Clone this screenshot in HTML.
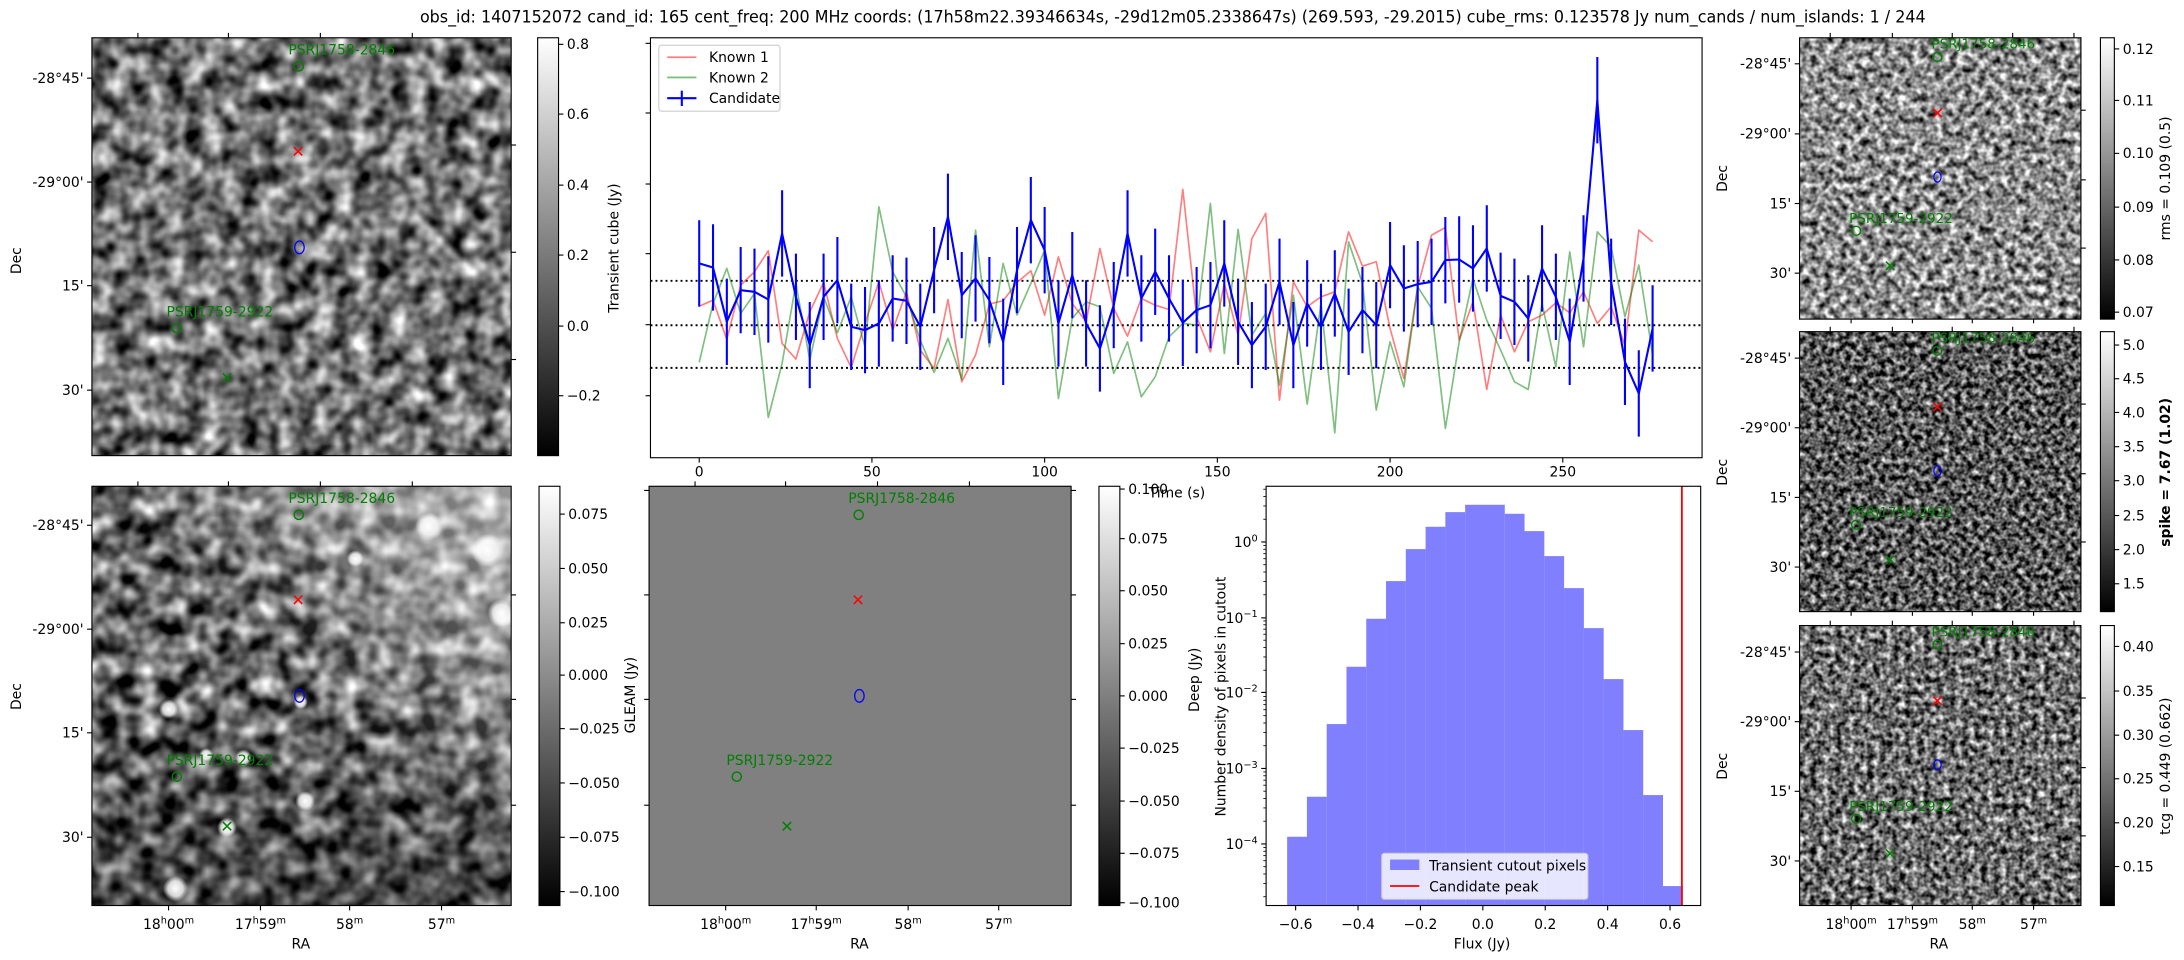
<!DOCTYPE html>
<html><head><meta charset="utf-8"><style>
html,body{margin:0;padding:0;background:#fff;}
svg{display:block;font-family:"DejaVu Sans","Liberation Sans",sans-serif;}
filter{color-interpolation-filters:sRGB;}
</style></head><body>
<svg id="fig" xmlns="http://www.w3.org/2000/svg" width="2184" height="960" viewBox="0 0 1568 689">
<defs>
<linearGradient id="cb" x1="0" y1="1" x2="0" y2="0"><stop offset="0" stop-color="#000"/><stop offset="1" stop-color="#fff"/></linearGradient>
<filter id="fA" color-interpolation-filters="sRGB" filterUnits="userSpaceOnUse" x="66" y="27" width="301" height="300"><feTurbulence type="fractalNoise" baseFrequency="0.075" numOctaves="2" seed="4"/><feColorMatrix type="matrix" values="1.6 0 0 0 -0.35  1.6 0 0 0 -0.35  1.6 0 0 0 -0.35  0 0 0 0 1"/></filter>
<filter id="fB" color-interpolation-filters="sRGB" filterUnits="userSpaceOnUse" x="66" y="349" width="301" height="301"><feTurbulence type="fractalNoise" baseFrequency="0.07" numOctaves="2" seed="11"/><feColorMatrix type="matrix" values="1.7 0 0 0 -0.45  1.7 0 0 0 -0.45  1.7 0 0 0 -0.45  0 0 0 0 1"/></filter>
<filter id="fR1" color-interpolation-filters="sRGB" filterUnits="userSpaceOnUse" x="1292" y="27" width="202" height="202"><feTurbulence type="fractalNoise" baseFrequency="0.19" numOctaves="2" seed="7"/><feColorMatrix type="matrix" values="1.7 0 0 0 -0.3  1.7 0 0 0 -0.3  1.7 0 0 0 -0.3  0 0 0 0 1"/></filter>
<filter id="fR2" color-interpolation-filters="sRGB" filterUnits="userSpaceOnUse" x="1292" y="238" width="202" height="201"><feTurbulence type="fractalNoise" baseFrequency="0.24" numOctaves="2" seed="21"/><feColorMatrix type="matrix" values="1.7 0 0 0 -0.5  1.7 0 0 0 -0.5  1.7 0 0 0 -0.5  0 0 0 0 1"/></filter>
<filter id="fR3" color-interpolation-filters="sRGB" filterUnits="userSpaceOnUse" x="1292" y="449" width="202" height="201"><feTurbulence type="fractalNoise" baseFrequency="0.22" numOctaves="2" seed="33"/><feColorMatrix type="matrix" values="1.7 0 0 0 -0.42  1.7 0 0 0 -0.42  1.7 0 0 0 -0.42  0 0 0 0 1"/></filter>
<radialGradient id="wb"><stop offset="0" stop-color="#fff" stop-opacity="1"/><stop offset="0.6" stop-color="#fff" stop-opacity="0.8"/><stop offset="1" stop-color="#fff" stop-opacity="0"/></radialGradient>
<linearGradient id="bright" x1="0" y1="1" x2="1" y2="0"><stop offset="0" stop-color="#fff" stop-opacity="0"/><stop offset="0.5" stop-color="#fff" stop-opacity="0"/><stop offset="1" stop-color="#fff" stop-opacity="0.6"/></linearGradient>
<linearGradient id="darkb" x1="0" y1="0" x2="0" y2="1"><stop offset="0.5" stop-color="#000" stop-opacity="0"/><stop offset="1" stop-color="#000" stop-opacity="0.3"/></linearGradient>
</defs>
<g id="g"></g>
</svg>
<script>
(function(){
var g=document.getElementById('g');var out=[];
function T(x,y,s,o){o=o||{};var a='<text x="'+x+'" y="'+y+'" font-size="'+(o.fs||10)+'" fill="'+(o.fill||'#000')+'" text-anchor="'+(o.a||'start')+'"'+(o.rot?' transform="rotate(-90 '+x+' '+y+')"':'')+(o.bold?' font-weight="bold"':'')+(o.tl?' textLength="'+o.tl+'" lengthAdjust="spacingAndGlyphs"':'')+'>'+s+'</text>';out.push(a);}
function L(x1,y1,x2,y2,c,w,extra){out.push('<line x1="'+x1+'" y1="'+y1+'" x2="'+x2+'" y2="'+y2+'" stroke="'+(c||'#000')+'" stroke-width="'+(w||0.8)+'" '+(extra||'')+'/>');}
function R(x,y,w,h,f,extra){out.push('<rect x="'+x+'" y="'+y+'" width="'+w+'" height="'+h+'" fill="'+f+'" '+(extra||'')+'/>');}
function box(x,y,w,h){R(x,y,w,h,'none','stroke="#000" stroke-width="0.8"');}
T(842,16,'obs_id: 1407152072 cand_id: 165 cent_freq: 200 MHz coords: (17h58m22.39346634s, -29d12m05.2338647s) (269.593, -29.2015) cube_rms: 0.123578 Jy num_cands / num_islands: 1 / 244',{fs:12,a:'middle',tl:1081});
function ra(labels,xs,y){var t=['18<tspan dy="-4" font-size="7">h</tspan><tspan dy="4">00</tspan><tspan dy="-4" font-size="7">m</tspan>','17<tspan dy="-4" font-size="7">h</tspan><tspan dy="4">59</tspan><tspan dy="-4" font-size="7">m</tspan>','58<tspan dy="-4" font-size="7">m</tspan>','57<tspan dy="-4" font-size="7">m</tspan>'];for(var i=0;i<4;i++){T(xs[i],y,t[i],{a:'middle'});}}
function markers(dx,dy){
 var c='#008000';
 T(207+dx,39+dy,'PSRJ1758-2846',{fill:c});
 out.push('<circle cx="'+(214.5+dx)+'" cy="'+(47.5+dy)+'" r="3.3" fill="none" stroke="'+c+'" stroke-width="1"/>');
 cross(214+dx,108.5+dy,'#f00');
 out.push('<ellipse cx="'+(215+dx)+'" cy="'+(177.5+dy)+'" rx="3.4" ry="4.6" fill="none" stroke="#00f" stroke-width="0.9"/>');
 T(119.5+dx,227+dy,'PSRJ1759-2922',{fill:c});
 out.push('<circle cx="'+(127+dx)+'" cy="'+(235.5+dy)+'" r="3.3" fill="none" stroke="'+c+'" stroke-width="1"/>');
 cross(163+dx,271+dy,c);
}
function cross(x,y,c){L(x-3,y-3,x+3,y+3,c,1.1);L(x-3,y+3,x+3,y-3,c,1.1);}
function cbar(x,y,h,ticks){R(x,y,15,h,'url(#cb)');box(x,y,15,h);ticks.forEach(function(t){L(x+15,t[1],x+18.5,t[1]);T(x+21,t[1]+3.5,t[0]);});}
// Panel A
R(66,27,301,300,'#888','filter="url(#fA)"');
box(66,27,301,300);
[99,164,230,296].forEach(function(x){L(x,27,x,23.5);});
[[56,"-28°45'"],[130.6,"-29°00'"],[205,"15'"],[280,"30'"]].forEach(function(d){L(66,d[0],62.5,d[0]);T(60,d[0]+3.5,d[1],{a:'end'});});
[104,181,258].forEach(function(y){L(367,y,370.5,y);});
T(15,187,'Dec',{a:'middle',rot:1});
markers(0,0);
cbar(386,27,300,[['0.8',31.7],['0.6',81.8],['0.4',132.8],['0.2',183],['0.0',234],['−0.2',284]]);
T(444,178,'Transient cube (Jy)',{a:'middle',rot:1});
// Panel B
R(66,349,301,301,'#888','filter="url(#fB)"');
R(66,349,301,301,'url(#bright)');
R(66,349,301,301,'url(#darkb)');
[[126,638,9],[121,509,7],[175,544,6],[163,594,7],[219,575,7],[216,504,5],[148,542,5],[308,378,10],[350,395,12],[360,440,10],[255,401,6]].forEach(function(b){out.push('<circle cx="'+b[0]+'" cy="'+b[1]+'" r="'+b[2]+'" fill="url(#wb)"/>');});
box(66,349,301,301);
[99,164,230,296].forEach(function(x){L(x,349,x,345.5);});
[[377,"-28°45'"],[451.6,"-29°00'"],[526,"15'"],[601,"30'"]].forEach(function(d){L(66,d[0],62.5,d[0]);T(60,d[0]+3.5,d[1],{a:'end'});});
[121,187,251,317].forEach(function(x){L(x,650,x,653.5);});
[427,502,578].forEach(function(y){L(367,y,370.5,y);});
ra(0,[121,187,251,317],667);
T(216,681,'RA',{a:'middle'});
T(15,500,'Dec',{a:'middle',rot:1});
markers(0,322);
cbar(387,349,301,[['0.075',369],['0.050',408],['0.025',447],['0.000',484.6],['−0.025',523],['−0.050',562],['−0.075',601],['−0.100',640]]);
T(456,499,'GLEAM (Jy)',{a:'middle',rot:1});
// GLEAM
R(466,349,303,301,'#808080');box(466,349,303,301);
[499,564,630,696].forEach(function(x){L(x,349,x,345.5);});
[352,427,502,578].forEach(function(y){L(466,y,462.5,y);L(769,y,772.5,y);});
[521,586,652,717].forEach(function(x){L(x,650,x,653.5);});
ra(0,[521,586,652,717],667);
T(617,681,'RA',{a:'middle'});
markers(402,322);
cbar(789,349,301,[['0.100',351],['0.075',386.6],['0.050',424],['0.025',462],['0.000',499.5],['−0.025',537],['−0.050',575],['−0.075',612.5],['−0.100',648]]);
T(861,488,'Deep (Jy)',{a:'middle',rot:1});
// Time series
box(467,27,755,301.5);
var X=function(t){return 502+t*2.48;};
var Y=function(z){return (z/3+30)/1.393;};
[31,81,132,182,233,284].forEach(function(y){L(467,y,463.5,y);});
[0,50,100,150,200,250].forEach(function(t){L(X(t),328.5,X(t),332);T(X(t),342,String(t),{a:'middle'});});
T(845,357,'Time (s)',{a:'middle'});
[201.5,233.4,264].forEach(function(y){L(467,y,1222,y,'#000',1.4,'stroke-dasharray="1.4 2.2"');});
var red=[828,810,928,765,725,662,940,987,845,757,925,1012,880,755,900,785,960,1015,808,1055,975,822,812,757,722,855,680,820,875,655,835,918,805,825,838,478,860,965,760,915,625,550,1110,755,830,800,785,605,708,695,895,1045,770,615,592,930,815,1078,855,965,875,855,818,848,785,880,830,945,600,635];
var grn=[997,820,715,850,790,1162,1000,760,990,800,908,800,950,530,725,800,930,1027,925,1047,600,950,700,855,760,660,1105,865,815,830,1030,935,1100,1040,920,880,885,520,970,598,915,850,1065,795,1122,820,1208,635,760,1140,935,1070,770,835,1195,935,745,870,960,1055,1078,820,1010,665,950,605,650,860,705,975];
var blu=[700,712,875,780,785,808,610,800,945,800,750,890,900,880,805,812,890,720,560,795,745,810,935,720,570,660,880,735,880,955,825,610,805,725,805,878,840,825,700,875,945,890,755,945,820,890,790,905,840,885,705,775,762,755,690,688,715,655,797,815,865,715,800,935,685,210,755,995,1090,895];
function pl(arr,c,w,op){var p=arr.map(function(v,i){return X(i*4).toFixed(1)+','+Y(v).toFixed(1);}).join(' ');out.push('<polyline points="'+p+'" fill="none" stroke="'+c+'" stroke-width="'+w+'" stroke-opacity="'+op+'" stroke-linejoin="round"/>');}
pl(red,'#ff0000',1.2,0.5);pl(grn,'#008000',1.2,0.5);
blu.forEach(function(v,i){var y=Y(v);L(X(i*4),y-31,X(i*4),y+31,'#0000ff',1.5);});
pl(blu,'#0000ff',1.5,1);
R(473,32.3,87,47.4,'#fff','stroke="#ccc" stroke-width="0.8" rx="2" fill-opacity="0.8"');
L(479,41,500,41,'#ff0000',1.3,'stroke-opacity="0.5"');T(509,44.5,'Known 1');
L(479,55.5,500,55.5,'#008000',1.3,'stroke-opacity="0.5"');T(509,59,'Known 2');
L(479,70.4,500,70.4,'#0000ff',1.5);L(489.5,65,489.5,76,'#0000ff',1.5);T(509,74,'Candidate');
// Histogram
var edges=[];for(var i=0;i<=20;i++)edges.push(924.1+i*14.2);
var tops=[1100,980,762,590,446,333,237,170,126,104,104,131,183,258,354,474,627,780,975,1248];
tops.forEach(function(t,i){var y=(t/3+470)/1.393;R(edges[i],y,14.25,650-y,'#8080ff');});
L(1207.5,349,1207.5,650,'#ff0000',1.3);
box(909,349,312,301);
var hX=function(v){return 1064.6+v*224;};
[-0.6,-0.4,-0.2,0,0.2,0.4,0.6].forEach(function(v){var x=hX(v);L(x,650,x,653.5);T(x,667,(v<0?'−':'')+Math.abs(v).toFixed(1),{a:'middle'});});
T(1064,681,'Flux (Jy)',{a:'middle'});
var dec=[[389,'0'],[443.5,'−1'],[497,'−2'],[551.6,'−3'],[605.8,'−4']];
dec.forEach(function(d){L(909,d[0],905.5,d[0]);out.push('<text x="903" y="'+(d[0]+3.5)+'" font-size="10" text-anchor="end">10<tspan dy="-4" font-size="7">'+d[1]+'</tspan></text>');});
for(var k=-5;k<=0;k++){for(var m=2;m<=9;m++){var y=389-(k+Math.log10(m))*54.2;if(y>349&&y<650)L(909,y,907,y,'#000',0.6);}}
T(880,500,'Number density of pixels in cutout',{a:'middle',rot:1});
R(992,612.5,148,33,'#fff','stroke="#ccc" stroke-width="0.8" rx="2" fill-opacity="0.8"');
R(998,617,21,7.5,'#8080ff');T(1026,625,'Transient cutout pixels');
L(998,636,1019,636,'#ff0000',1.3);T(1026,640,'Candidate peak');
// Right panels
var rows=[{y:27,f:'fR1',lab:'rms = 0.109 (0.5)',ticks:[['0.12',35],['0.11',72],['0.10',110],['0.09',148.6],['0.08',186.5],['0.07',224]],decs:[45.7,96,146,196]},
{y:238,f:'fR2',lab:'spike = 7.67 (1.02)',bold:1,ticks:[['5.0',247.6],['4.5',271.8],['4.0',296],['3.5',320.6],['3.0',345],['2.5',370],['2.0',394.5],['1.5',419]],decs:[257,307,357,407]},
{y:449,f:'fR3',lab:'tcg = 0.449 (0.662)',ticks:[['0.40',464],['0.35',496],['0.30',527.7],['0.25',559],['0.20',590.6],['0.15',622]],decs:[468,518,568,618]}];
rows.forEach(function(r,ri){
 var dy=r.y-27;var hh=(ri==0?202:201);
 R(1292,r.y,202,hh,'#888','filter="url(#'+r.f+')"');
 box(1292,r.y,202,hh);
 [1314,1358.6,1401.6,1445,1489].forEach(function(x){L(x,r.y,x,r.y-3.5);});
 [1329,1373,1416,1460].forEach(function(x){L(x,r.y+hh,x,r.y+hh+3);});
 [79,129,178].forEach(function(y){L(1494,y+dy,1497.5,y+dy);});
 var ds=["-28°45'","-29°00'","15'","30'"];
 r.decs.forEach(function(y,i){L(1292,y,1288.5,y);T(1286,y+3.5,ds[i],{a:'end'});});
 T(1240,r.y+101,'Dec',{a:'middle',rot:1});
 var c='#008000';
 T(1386.7,34.7+dy,'PSRJ1758-2846',{fill:c,fs:9.7});
 out.push('<circle cx="1391" cy="'+(40.7+dy)+'" r="3.2" fill="none" stroke="'+c+'" stroke-width="1"/>');
 cross(1391,81+dy,'#f00');
 out.push('<ellipse cx="1391" cy="'+(127+dy)+'" rx="2.6" ry="3.6" fill="none" stroke="#00f" stroke-width="0.9"/>');
 T(1327.6,160+dy,'PSRJ1759-2922',{fill:c,fs:9.7});
 out.push('<circle cx="1332.6" cy="'+(165.6+dy)+'" r="3.2" fill="none" stroke="'+c+'" stroke-width="1"/>');
 cross(1357,190.7+dy,c);
 R(1508,r.y,10,hh,'url(#cb)');box(1508,r.y,10,hh);
 r.ticks.forEach(function(t){L(1518,t[1],1521.5,t[1]);T(1524,t[1]+3.5,t[0]);});
 T(1558,r.y+101,r.lab,{a:'middle',rot:1,bold:r.bold});
});
ra(0,[1329,1373,1416,1460],667);
T(1392,681,'RA',{a:'middle'});
g.innerHTML=out.join('');
})();
</script>
</body></html>
